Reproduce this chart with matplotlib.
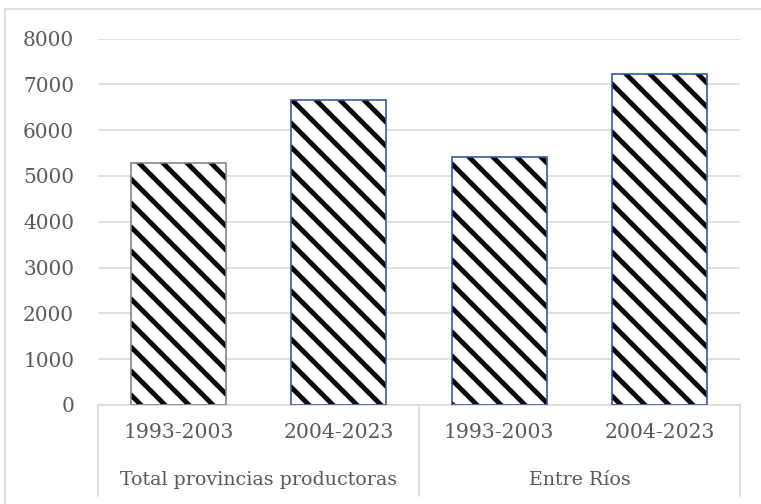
import matplotlib
matplotlib.use("Agg")
import matplotlib.pyplot as plt
from matplotlib.lines import Line2D
import matplotlib.transforms as mtransforms

periods = ["1993-2003", "2004-2023", "1993-2003", "2004-2023"]
groups = ["Total provincias productoras", "Entre Ríos"]
values = [5280, 6650, 5410, 7220]
yticks = [0, 1000, 2000, 3000, 4000, 5000, 6000, 7000, 8000]

W, H, DPI = 761, 504, 144
plt.rcParams['font.family'] = ['DejaVu Serif']
plt.rcParams['hatch.linewidth'] = 2.4

fig = plt.figure(figsize=(W / DPI, H / DPI), dpi=DPI)
L, R, T, B = 98, 740, 38.5, 405
ax = fig.add_axes([L / W, 1 - B / H, (R - L) / W, (B - T) / H])

grid_c = "#d9d9d9"
text_c = "#595959"
x = list(range(len(values)))
edge_cols = ["#7f7f7f", "#2f5597", "#2f5597", "#2f5597"]
ax.bar(x, values, width=0.59, color="white", edgecolor="black", hatch="\\\\", linewidth=0, zorder=2)
ax.bar(x, values, width=0.59, fill=False, edgecolor=edge_cols, linewidth=0.8, zorder=3)

ax.set_xlim(-0.5, len(values) - 0.5)
ax.set_ylim(0, 8000)
ax.set_yticks(yticks)
ax.yaxis.grid(True, color=grid_c, linewidth=0.8)
ax.set_axisbelow(True)
for s in ["top", "right", "left"]:
    ax.spines[s].set_visible(False)
ax.spines["bottom"].set_color(grid_c)
ax.spines["bottom"].set_linewidth(0.8)
ax.tick_params(axis="y", length=0, pad=12, labelsize=10, labelcolor=text_c)
ax.set_xticks([])

def ypx(p):
    return 1 - p / H

trans = mtransforms.blended_transform_factory(ax.transData, fig.transFigure)
for i, lab in enumerate(periods):
    fig.text(i, ypx(433), lab, transform=trans, ha="center", va="center", fontsize=10.2, color=text_c)
for g, lab in enumerate(groups):
    fig.text(2 * g + 0.5, ypx(480), lab, transform=trans, ha="center", va="center", fontsize=9.5, color=text_c)
for xs in [-0.5, 1.5, 3.5]:
    fig.add_artist(Line2D([xs, xs], [ypx(405), ypx(496)], transform=trans, color=grid_c, linewidth=0.8))

# outer chart border
fig.add_artist(Line2D([5 / W, 5 / W], [ypx(9), 0], transform=fig.transFigure, color=grid_c, linewidth=0.8))
fig.add_artist(Line2D([5 / W, 1], [ypx(9), ypx(9)], transform=fig.transFigure, color=grid_c, linewidth=0.8))

fig.savefig("out.png", dpi=DPI)
